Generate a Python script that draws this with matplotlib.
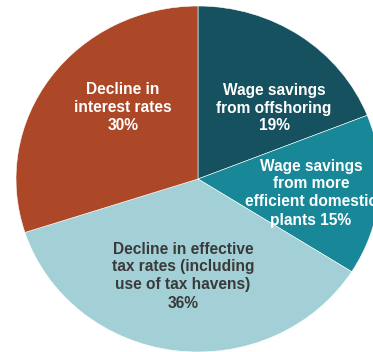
import matplotlib
matplotlib.use("Agg")
import matplotlib.pyplot as plt

categories = [
    "Wage savings\nfrom offshoring\n19%",
    "Wage savings\nfrom more\nefficient domestic\nplants 15%",
    "Decline in effective\ntax rates (including\nuse of tax havens)\n36%",
    "Decline in\ninterest rates\n30%",
]
values = [19, 15, 36, 30]
colors = ["#15515f", "#188898", "#a3cfd6", "#ac4828"]
text_colors = ["white", "white", "#3a3a3a", "white"]

W, H = 373, 352
fig = plt.figure(figsize=(W / 100, H / 100), dpi=100)
# ellipse: center (198,179) px from top-left, rx=182, ry=173
cx, cy, rx, ry = 198, 179, 182, 173
ax = fig.add_axes([(cx - rx) / W, 1 - (cy + ry) / H, 2 * rx / W, 2 * ry / H])
wedges, _ = ax.pie(values, colors=colors, startangle=90, counterclock=False,
                   wedgeprops=dict(edgecolor="white", linewidth=0.4))
ax.set_aspect("auto")
ax.set_xlim(-1, 1)
ax.set_ylim(-1, 1)
ax.axis("off")

label_px = [(274, 108), (311, 193), (183, 276), (123, 108)]
for txt, (px, py), tc in zip(categories, label_px, text_colors):
    ax.text((px - cx) / rx, (cy - py) / ry, txt, ha="center", va="center",
            fontsize=11.2, fontweight="bold", color=tc,
            family=["Liberation Sans", "DejaVu Sans"], linespacing=1.25,
            clip_on=False)

fig.savefig("out.png", dpi=100)
